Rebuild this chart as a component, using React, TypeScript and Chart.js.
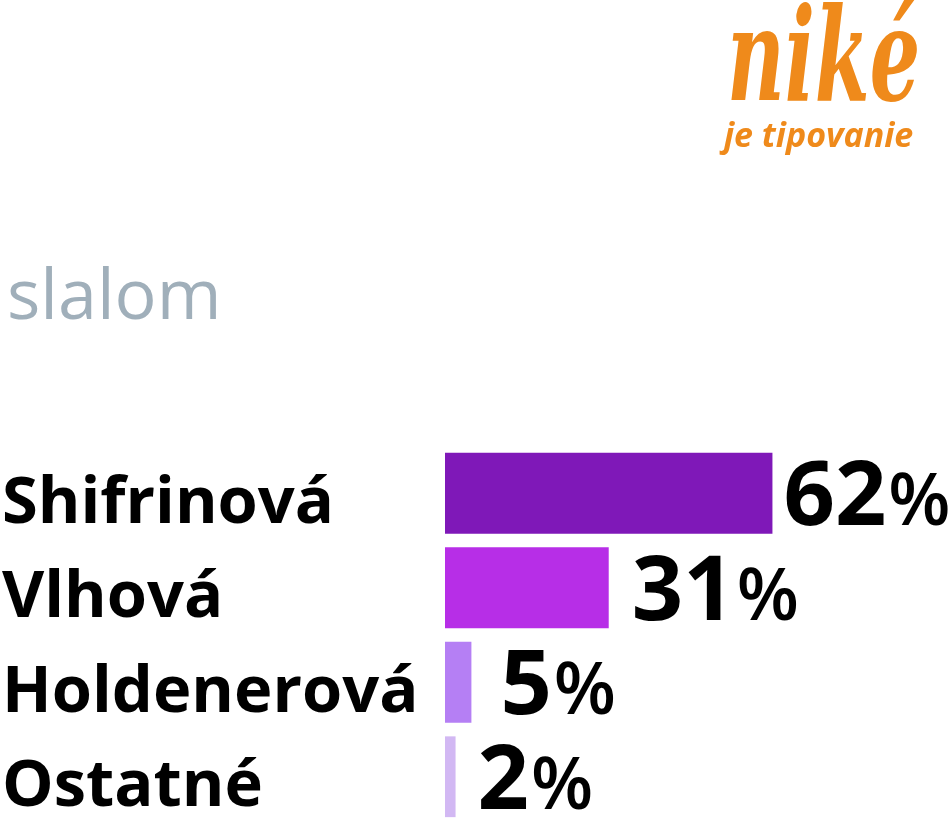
import React, { useEffect, useRef } from "react";
import { Chart, registerables } from "chart.js";

Chart.register(...registerables);

const title = "slalom";
const logoMain = "niké";
const logoSub = "je tipovanie";
const categories = ["Shifrinová", "Vlhová", "Holdenerová", "Ostatné"];
const values = [62, 31, 5, 2];
const barColors = ["#7F18B8", "#B72EE7", "#B57FF4", "#D2B8F3"];
const labelGaps = [11, 23, 29, 22];

export default function App() {
  const ref = useRef<HTMLCanvasElement | null>(null);

  useEffect(() => {
    if (!ref.current) return;

    const decorPlugin = {
      id: "decor",
      afterDraw(chart: any) {
        const ctx = chart.ctx;
        ctx.save();
        // title
        ctx.fillStyle = "#A0AFBA";
        ctx.font = "400 70px 'Open Sans'";
        ctx.textAlign = "left";
        ctx.textBaseline = "alphabetic";
        ctx.fillText(title, 7, 319);
        // logo
        ctx.fillStyle = "#EF8A1B";
        ctx.save();
        ctx.translate(727, 100);
        ctx.scale(0.61, 1);
        ctx.font = "italic 700 130px 'DejaVu Serif'";
        ctx.fillText(logoMain, 0, 0);
        ctx.restore();
        ctx.font = "italic 700 34px 'Open Sans'";
        ctx.fillText(logoSub, 724, 147);
        ctx.restore();
      },
    };

    const valuePlugin = {
      id: "values",
      afterDatasetsDraw(chart: any) {
        const ctx = chart.ctx;
        const meta = chart.getDatasetMeta(0);
        ctx.save();
        ctx.fillStyle = "#000";
        ctx.textAlign = "left";
        ctx.textBaseline = "alphabetic";
        meta.data.forEach((bar: any, i: number) => {
          const num = String(values[i]);
          let x = bar.x + labelGaps[i];
          const y = bar.y + 32;
          ctx.font = "700 90px 'Open Sans'";
          ctx.fillText(num, x, y);
          x += ctx.measureText(num).width + 2;
          ctx.font = "600 72px 'Open Sans'";
          ctx.fillText("%", x, y);
        });
        ctx.restore();
      },
    };

    const chart = new Chart(ref.current, {
      type: "bar",
      data: {
        labels: categories,
        datasets: [
          {
            data: values,
            backgroundColor: barColors,
            borderWidth: 0,
            categoryPercentage: 1,
            barPercentage: 0.855,
          },
        ],
      },
      options: {
        indexAxis: "y",
        animation: false,
        responsive: true,
        maintainAspectRatio: false,
        layout: { padding: { top: 446, bottom: 3, left: 2, right: 0 } },
        plugins: {
          legend: { display: false },
          tooltip: { enabled: false },
        },
        scales: {
          x: { display: false, min: 0, max: 96 },
          y: {
            grid: { display: false },
            border: { display: false },
            afterFit(scale: any) {
              scale.width = 443;
              scale.paddingTop = 0;
              scale.paddingBottom = 0;
            },
            ticks: {
              crossAlign: "far",
              color: "#000",
              labelOffset: 11,
              font: { family: "'Open Sans'", weight: "bold", size: 65 },
            },
          },
        },
      },
      plugins: [decorPlugin, valuePlugin],
    } as any);

    return () => chart.destroy();
  }, []);

  return (
    <div style={{ position: "fixed", left: 0, top: 0, width: 952, height: 827, background: "#fff" }}>
      <canvas ref={ref} />
    </div>
  );
}
